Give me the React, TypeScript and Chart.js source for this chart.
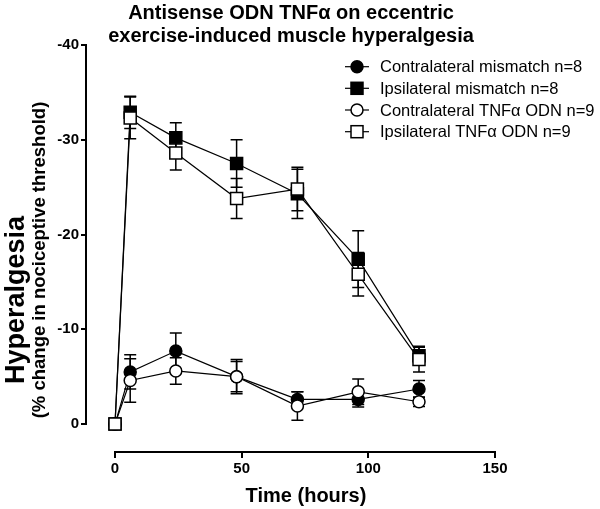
import React, { useEffect, useRef } from "react";
import { Chart, registerables } from "chart.js";

Chart.register(...registerables);

const FONT = "'Liberation Sans', Arial, sans-serif";

const titleLines = ["Antisense ODN TNF\u03b1 on eccentric", "exercise-induced muscle hyperalgesia"];
const xTitle = "Time (hours)";
const yTitle = "Hyperalgesia";
const ySubTitle = "(% change in nociceptive threshold)";

const hours = [0, 6, 24, 48, 72, 96, 120];
const xTicks = [0, 50, 100, 150];
const yTicks = [-40, -30, -20, -10, 0];

const seriesNames = [
  "Contralateral mismatch n=8",
  "Ipsilateral mismatch n=8",
  "Contralateral TNF\u03b1 ODN n=9",
  "Ipsilateral TNF\u03b1 ODN n=9",
];

const contraMismatch = [0, -5.5, -7.7, -5.0, -2.6, -2.6, -3.7];
const contraMismatchErr = [0, 1.8, 1.9, 1.8, 0.8, 0.8, 0.9];
const ipsiMismatch = [0, -32.9, -30.2, -27.5, -24.3, -17.4, -7.2];
const ipsiMismatchErr = [0, 1.7, 1.6, 2.5, 2.6, 3.0, 1.0];
const contraTnf = [0, -4.6, -5.6, -5.0, -1.9, -3.4, -2.35];
const contraTnfErr = [0, 2.3, 1.4, 1.6, 1.5, 1.35, 0.5];
const ipsiTnf = [0, -32.3, -28.6, -23.8, -24.8, -15.8, -6.8];
const ipsiTnfErr = [0, 2.2, 1.8, 2.1, 2.3, 2.3, 1.3];

const seriesValues = [contraMismatch, ipsiMismatch, contraTnf, ipsiTnf];
const seriesErrors = [contraMismatchErr, ipsiMismatchErr, contraTnfErr, ipsiTnfErr];
const seriesShapes = ["circle", "rect", "circle", "rect"];
const seriesFills = ["#000000", "#000000", "#ffffff", "#ffffff"];
const seriesOrder = [3, 2, 1, 0];

function radiusFor(shape: string) {
  return shape === "rect" ? 8.5 : 6;
}

const errorBarPlugin = {
  id: "errorBars",
  beforeDatasetsDraw(chart: any) {
    const ctx = chart.ctx;
    const xs = chart.scales.x;
    const ys = chart.scales.y;
    ctx.save();
    ctx.strokeStyle = "#000";
    ctx.lineWidth = 1.5;
    chart.data.datasets.forEach((ds: any) => {
      const errs: number[] = ds.errors;
      ds.data.forEach((p: any, i: number) => {
        const e = errs[i];
        if (!e) return;
        const px = xs.getPixelForValue(p.x);
        const y1 = ys.getPixelForValue(p.y - e);
        const y2 = ys.getPixelForValue(p.y + e);
        ctx.beginPath();
        ctx.moveTo(px, y1);
        ctx.lineTo(px, y2);
        ctx.moveTo(px - 6, y1);
        ctx.lineTo(px + 6, y1);
        ctx.moveTo(px - 6, y2);
        ctx.lineTo(px + 6, y2);
        ctx.stroke();
      });
    });
    ctx.restore();
  },
};

const decorPlugin = {
  id: "decor",
  afterDraw(chart: any) {
    const ctx = chart.ctx;
    const xs = chart.scales.x;
    const ys = chart.scales.y;
    ctx.save();
    // axis lines
    ctx.strokeStyle = "#000";
    ctx.lineWidth = 2;
    ctx.beginPath();
    const axY = chart.chartArea.bottom;
    ctx.moveTo(xs.getPixelForValue(xTicks[0]) - 1, axY);
    ctx.lineTo(xs.getPixelForValue(xTicks[xTicks.length - 1]) + 1, axY);
    const axX = chart.chartArea.left;
    ctx.moveTo(axX, ys.getPixelForValue(yTicks[0]) - 1);
    ctx.lineTo(axX, ys.getPixelForValue(yTicks[yTicks.length - 1]) + 1);
    ctx.stroke();

    // title
    ctx.fillStyle = "#000";
    ctx.textAlign = "center";
    ctx.textBaseline = "alphabetic";
    ctx.font = `bold 20px ${FONT}`;
    ctx.fillText(titleLines[0], 291, 19);
    ctx.fillText(titleLines[1], 291, 42);

    // x title
    ctx.font = `bold 20px ${FONT}`;
    ctx.fillText(xTitle, 306, 502);

    // y titles
    ctx.save();
    ctx.translate(24, 300);
    ctx.rotate(-Math.PI / 2);
    ctx.font = `bold 27px ${FONT}`;
    ctx.fillText(yTitle, 0, 0);
    ctx.restore();

    ctx.save();
    ctx.translate(45, 260);
    ctx.rotate(-Math.PI / 2);
    ctx.font = `bold 18.5px ${FONT}`;
    ctx.fillText(ySubTitle, 0, 0);
    ctx.restore();

    // legend
    const rows = [66.7, 88.3, 110, 131.7];
    chart.data.datasets.forEach((ds: any, i: number) => {
      const y = rows[i];
      ctx.strokeStyle = "#000";
      ctx.lineWidth = 1.2;
      ctx.beginPath();
      ctx.moveTo(345, y);
      ctx.lineTo(369, y);
      ctx.stroke();
      ctx.fillStyle = ds.pointBackgroundColor;
      ctx.lineWidth = 1.5;
      if (ds.pointStyle === "rect") {
        ctx.fillRect(351, y - 6, 12, 12);
        ctx.strokeRect(351, y - 6, 12, 12);
      } else {
        ctx.beginPath();
        ctx.arc(357, y, 6, 0, Math.PI * 2);
        ctx.fill();
        ctx.stroke();
      }
      ctx.fillStyle = "#000";
      ctx.textAlign = "left";
      ctx.textBaseline = "middle";
      ctx.font = `16.5px ${FONT}`;
      ctx.fillText(ds.label, 380, y + 1);
    });
    ctx.restore();
  },
};

export default function App() {
  const ref = useRef<HTMLCanvasElement | null>(null);

  useEffect(() => {
    if (!ref.current) return;
    const datasets = seriesNames.map((name, i) => ({
      label: name,
      data: hours.map((h, j) => ({ x: h, y: seriesValues[i][j] })),
      errors: seriesErrors[i],
      borderColor: "#000",
      borderWidth: 1.2,
      pointStyle: seriesShapes[i],
      pointRadius: radiusFor(seriesShapes[i]),
      pointBackgroundColor: seriesFills[i],
      pointBorderColor: "#000",
      pointBorderWidth: 1.5,
      order: seriesOrder[i],
      tension: 0,
      fill: false,
    }));

    const chart = new Chart(ref.current, {
      type: "line",
      data: { datasets: datasets as any },
      options: {
        responsive: false,
        animation: false,
        events: [],
        layout: { padding: { top: 45, right: 105, left: 0, bottom: 0 } },
        plugins: { legend: { display: false }, title: { display: false }, tooltip: { enabled: false } },
        scales: {
          x: {
            type: "linear",
            min: -11.45,
            max: 150,
            afterBuildTicks: (axis: any) => {
              axis.ticks = xTicks.map((v) => ({ value: v }));
            },
            afterFit: (axis: any) => {
              axis.height = 57;
            },
            border: { display: false },
            grid: {
              display: true,
              drawOnChartArea: false,
              drawTicks: true,
              tickLength: 6,
              color: "#000",
              lineWidth: 2,
            },
            ticks: {
              color: "#000",
              font: { family: FONT, size: 15, weight: "bold" },
              padding: 2,
              maxRotation: 0,
            },
          },
          y: {
            type: "linear",
            reverse: true,
            min: -40,
            max: 2.95,
            afterBuildTicks: (axis: any) => {
              axis.ticks = yTicks.map((v) => ({ value: v }));
            },
            afterFit: (axis: any) => {
              axis.width = 86;
            },
            border: { display: false },
            grid: {
              display: true,
              drawOnChartArea: false,
              drawTicks: true,
              tickLength: 5,
              color: "#000",
              lineWidth: 2,
            },
            ticks: {
              color: "#000",
              font: { family: FONT, size: 15, weight: "bold" },
              padding: 2,
            },
          },
        },
      } as any,
      plugins: [errorBarPlugin, decorPlugin],
    });
    return () => chart.destroy();
  }, []);

  return (
    <div style={{ position: "absolute", left: 0, top: 0, width: 600, height: 509, background: "#fff" }}>
      <canvas ref={ref} width={600} height={509} style={{ width: 600, height: 509, display: "block" }} />
    </div>
  );
}
